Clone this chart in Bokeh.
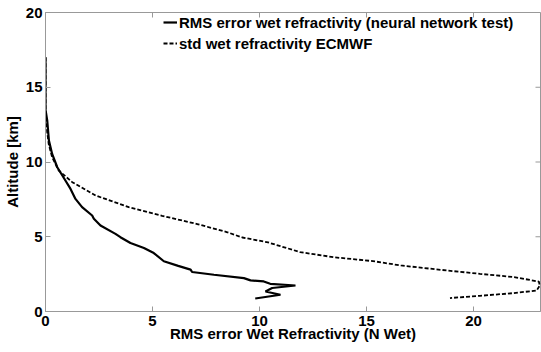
import math
from bokeh.plotting import figure
from bokeh.models import Range1d, FixedTicker, Legend, LegendItem
from bokeh.embed import file_html
from bokeh.resources import INLINE

# RMS error wet refractivity (neural network test): value, altitude [km]
rms_val = [0, 0, 0.08, 0.16, 0.31, 0.55, 0.93, 1.17, 1.4, 1.71, 2.18, 2.26, 2.57,
           3.27, 3.5, 3.97, 4.6, 5.06, 5.53, 6.2, 6.78, 6.85, 7.87, 9.27, 9.58,
           10.2, 10.5, 11.68, 10.59, 10.28, 10.98, 9.8]
rms_alt = [17.0, 13.5, 12.78, 11.44, 10.54, 9.65, 8.76, 8.2, 7.53, 6.98, 6.42, 6.2, 5.75,
           5.19, 4.97, 4.58, 4.25, 3.91, 3.36, 3.05, 2.8, 2.64, 2.46, 2.23, 2.08,
           2.01, 1.85, 1.74, 1.57, 1.34, 1.12, 0.87]

# std wet refractivity ECMWF: value, altitude [km]
std_val = [0, 0, 0.08, 0.15, 0.31, 0.62, 1.25, 2.34, 3.89, 5.45, 7.09, 8.5, 9.2,
           10.4, 11.9, 13.47, 15.3, 16.6, 18.77, 20.3, 21.9, 23.05, 23.1, 22.95,
           21.8, 20.3, 18.9]
std_alt = [17.0, 13.5, 12.0, 11.2, 10.32, 9.43, 8.65, 7.76, 6.98, 6.4, 5.85, 5.3, 4.95,
           4.62, 3.97, 3.63, 3.37, 3.08, 2.74, 2.52, 2.3, 2.0, 1.75, 1.4,
           1.22, 1.05, 0.9]

ticks = [0, 5, 10, 15, 20]
x_max = 23.13
y_max = 20

FONT = "Liberation Sans"
FS = "15px"
BOX = "#999999"

p = figure(width=541, height=352, output_backend="svg", toolbar_location=None,
           x_range=Range1d(0, x_max), y_range=Range1d(0, y_max),
           min_border_left=45, min_border_right=1, min_border_top=12, min_border_bottom=41)
p.xgrid.visible = False
p.ygrid.visible = False
p.outline_line_color = BOX
p.background_fill_color = "white"

for ax in (p.xaxis[0], p.yaxis[0]):
    ax.ticker = FixedTicker(ticks=ticks)
    ax.major_tick_in = 5
    ax.major_tick_out = 0
    ax.minor_tick_in = 0
    ax.minor_tick_out = 0
    ax.axis_line_color = BOX
    ax.major_tick_line_color = BOX
    ax.major_label_text_font = FONT
    ax.major_label_text_font_style = "bold"
    ax.major_label_text_font_size = FS
    ax.major_label_text_color = "black"
    ax.axis_label_text_font = FONT
    ax.axis_label_text_font_style = "bold"
    ax.axis_label_text_font_size = FS
    ax.axis_label_text_color = "black"

p.xaxis[0].axis_label = "RMS error Wet Refractivity (N Wet)"
p.yaxis[0].axis_label = "Altitude [km]"
p.xaxis[0].major_label_standoff = 4
p.xaxis[0].axis_label_standoff = -4
p.yaxis[0].major_label_standoff = 3
p.yaxis[0].axis_label_standoff = 2

# inward tick marks on the top and right edges of the box
p.ray(x=ticks, y=[y_max] * len(ticks), length=5, length_units="screen",
      angle=-math.pi / 2, line_color=BOX, line_width=1)
p.ray(x=[x_max] * len(ticks), y=ticks, length=5, length_units="screen",
      angle=math.pi, line_color=BOX, line_width=1)

r1 = p.line(rms_val, rms_alt, line_color="black", line_width=2.2)
r2 = p.line(std_val, std_alt, line_color="black", line_width=1.8, line_dash="4 2")

legend = Legend(items=[
    LegendItem(label="RMS error wet refractivity (neural network test)", renderers=[r1]),
    LegendItem(label="std wet refractivity ECMWF", renderers=[r2]),
], location=(118, 259))
legend.padding = 0
legend.margin = 0
legend.spacing = 3
legend.glyph_width = 14
legend.glyph_height = 18
legend.label_height = 18
legend.label_standoff = 2
legend.label_text_font = FONT
legend.label_text_font_style = "bold"
legend.label_text_font_size = FS
legend.label_text_color = "black"
legend.border_line_alpha = 0
legend.background_fill_alpha = 0
p.add_layout(legend, "center")

open("out.html", "w").write(file_html(p, INLINE))
